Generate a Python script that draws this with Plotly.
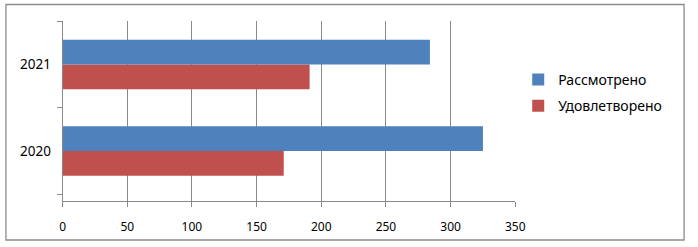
import plotly.graph_objects as go

years = ["2020", "2021"]
reviewed = [325, 284]
satisfied = [171, 191]
series_names = ["Рассмотрено", "Удовлетворено"]
colors = {"Рассмотрено": "#4F81BD", "Удовлетворено": "#C0504D"}
x_ticks = [0, 50, 100, 150, 200, 250, 300, 350]

W, H = 698, 247
font = "Noto Sans"
grid = "#898989"

fig = go.Figure()
# red first so blue sits on top within each group
fig.add_trace(go.Bar(y=years, x=satisfied, name=series_names[1], orientation="h",
                     marker=dict(color=colors[series_names[1]], line=dict(width=0)),
                     legendgroup="b", legendrank=2))
fig.add_trace(go.Bar(y=years, x=reviewed, name=series_names[0], orientation="h",
                     marker=dict(color=colors[series_names[0]], line=dict(width=0)),
                     legendgroup="a", legendrank=1))

fig.update_layout(
    width=W, height=H,
    margin=dict(l=0, r=0, t=0, b=0),
    paper_bgcolor="white", plot_bgcolor="white",
    barmode="group", bargap=0.428, bargroupgap=0,
    font=dict(family=font, color="#000000"),
    legend=dict(x=525 / W, y=1 - 64 / H, xanchor="left", yanchor="top",
                traceorder="grouped", tracegroupgap=5,
                font=dict(size=14, family=font), bgcolor="rgba(0,0,0,0)"),
    xaxis=dict(domain=[60.7 / W, 522 / W], range=[0, 350], tickvals=x_ticks,
               showgrid=True, gridcolor=grid, gridwidth=1, zeroline=False,
               showline=True, linecolor=grid, linewidth=1,
               ticks="outside", ticklen=5, tickcolor=grid,
               tickfont=dict(size=12, family=font), ticklabelstandoff=10,
               fixedrange=True),
    yaxis=dict(domain=[1 - 200.7 / H, 1 - 21.3 / H], type="category",
               categoryorder="array", categoryarray=years,
               range=[-0.575, 1.5], showgrid=False, zeroline=False,
               showline=True, linecolor=grid, linewidth=1,
               ticks="outside", ticklen=5, tickcolor=grid, tickson="boundaries",
               tickfont=dict(size=13.5, family=font), ticklabelstandoff=8,
               fixedrange=True),
    shapes=[dict(type="rect", xref="paper", yref="paper",
                 x0=3 / W, x1=694 / W, y0=1 - 240 / H, y1=1 - 4.5 / H,
                 line=dict(color="#8c8c8c", width=1.3), layer="below")],
)

fig.write_html("out.html")
